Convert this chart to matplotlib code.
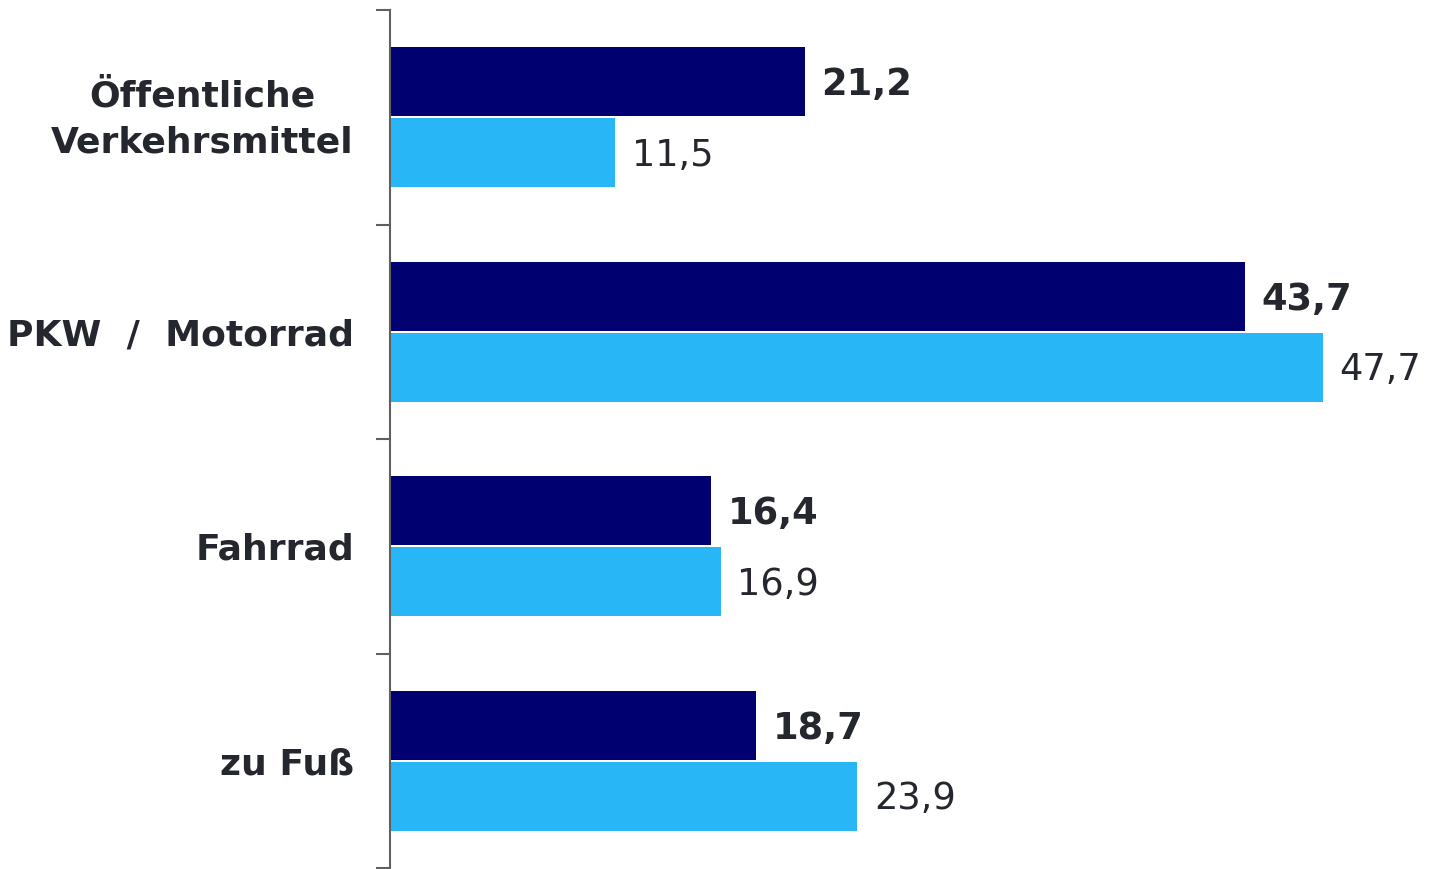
import numpy as np
import matplotlib.pyplot as plt
from matplotlib.transforms import ScaledTranslation

categories = ["Öffentliche\nVerkehrsmittel", "PKW  /  Motorrad", "Fahrrad", "zu Fuß"]
dark_values = [21.2, 43.7, 16.4, 18.7]
light_values = [11.5, 47.7, 16.9, 23.9]

dark_color = "#000070"
light_color = "#29B6F6"
text_color = "#25272E"

fig = plt.figure(figsize=(14.3, 8.69), dpi=100)
ax: plt.Axes = fig.add_axes([390 / 1430, 1 / 869, 1040 / 1430, 858 / 869])

centers = np.arange(len(categories)) + 0.5
bar_h = 0.323
offset = 0.165

ax.barh(centers - offset, dark_values, height=bar_h, color=dark_color)
ax.barh(centers + offset, light_values, height=bar_h, color=light_color)

for y, v in zip(centers - offset, dark_values):
    ax.annotate(f"{v:.1f}".replace(".", ","), (v, y), xytext=(12, -2), textcoords="offset points",
                va="center", ha="left", fontsize=26.5, fontweight="bold", color=text_color)
for y, v in zip(centers + offset, light_values):
    ax.annotate(f"{v:.1f}".replace(".", ","), (v, y), xytext=(12, -2), textcoords="offset points",
                va="center", ha="left", fontsize=26.5, color=text_color)

ax.set_xlim(0, 1040 / 19.56)
ax.set_ylim(len(categories), 0)

# boundary ticks on the spine, labels at band centres
ax.set_yticks(np.arange(len(categories) + 1))
ax.set_yticklabels([])
ax.set_yticks(centers, minor=True)
labels = ax.set_yticklabels(categories, minor=True, fontsize=26, fontweight="bold", color=text_color,
                            multialignment="center", linespacing=1.45)
ax.tick_params(axis="y", which="major", length=10, width=1.5, color="#606060")
ax.tick_params(axis="y", which="minor", length=0, pad=26)
ax.set_xticks([])

# two-line label sits a little higher in the original
for lab in ax.get_yticklabels(minor=True):
    if "\n" in lab.get_text():
        lab.set_transform(lab.get_transform() + ScaledTranslation(0, 0.07, fig.dpi_scale_trans))

for side in ["top", "right", "bottom"]:
    ax.spines[side].set_visible(False)
ax.spines["left"].set_color("#606060")
ax.spines["left"].set_linewidth(1.5)

plt.savefig("out.png", dpi=100)
